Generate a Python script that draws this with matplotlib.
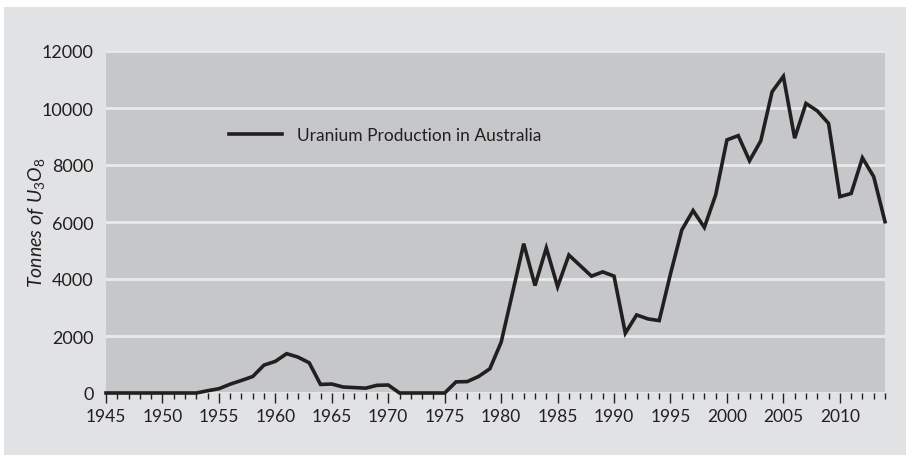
import matplotlib
matplotlib.use("Agg")
import matplotlib.pyplot as plt
from matplotlib.ticker import MultipleLocator
from matplotlib.patches import Rectangle

# Australian uranium production, tonnes of U3O8
years = list(range(1945, 2015))
production = [
    0, 0, 0, 0, 0, 0, 0, 0, 0, 80,            # 1945-1954
    150, 310, 440, 580, 980, 1110, 1380, 1260, 1060, 300,  # 1955-1964
    315, 210, 190, 170, 270, 280, 0, 0, 0, 0,  # 1965-1974
    0, 390, 400, 580, 850, 1780, 3500, 5240, 3770, 5090,  # 1975-1984
    3730, 4840, 4470, 4100, 4250, 4100, 2100, 2740, 2600, 2540,  # 1985-1994
    4180, 5720, 6400, 5810, 6950, 8880, 9030, 8150, 8850, 10570,  # 1995-2004
    11110, 8940, 10160, 9900, 9460, 6890, 7000, 8250, 7590, 6010,  # 2005-2014
]
series_name = "Uranium Production in Australia"
ytick_values = [0, 2000, 4000, 6000, 8000, 10000, 12000]

plt.rcParams["font.family"] = ["Lato", "DejaVu Sans"]
plt.rcParams["mathtext.fontset"] = "custom"
plt.rcParams["mathtext.it"] = "Lato:italic"
plt.rcParams["mathtext.rm"] = "Lato"

dark = "#231f20"

fig = plt.figure(figsize=(9.06, 4.56), dpi=100, facecolor="white")
fig.patches.append(Rectangle((4 / 906, 0), 1, 1 - 8 / 456, transform=fig.transFigure,
                             facecolor="#e1e2e4", edgecolor="none", zorder=-10))

ax = fig.add_axes([106 / 906, 1 - 394 / 456, 779 / 906, 342 / 456])
ax.set_facecolor("#c6c7c9")

ax.plot(years, production, color=dark, lw=2.6, clip_on=False, zorder=3,
        solid_joinstyle="miter", label=series_name)

ax.set_xlim(1945, 2014)
ax.set_ylim(0, 12000)
ax.set_yticks(ytick_values)
ax.xaxis.set_major_locator(MultipleLocator(5))
ax.xaxis.set_minor_locator(MultipleLocator(1))

ax.grid(axis="y", color="#e9eaeb", lw=2)
ax.set_axisbelow(True)
for s in ax.spines.values():
    s.set_visible(False)

ax.tick_params(axis="y", length=0, pad=9, labelsize=13, labelcolor=dark)
ax.tick_params(axis="x", which="major", direction="out", length=7, width=1,
               color=dark, pad=4, labelsize=12.5, labelcolor=dark)
ax.tick_params(axis="x", which="minor", direction="out", length=4, width=1, color=dark)

ax.set_ylabel(r"$Tonnes\ of\ U_3O_8$", fontsize=14, color=dark, labelpad=-4)

ax.legend(loc="center left", bbox_to_anchor=(0.158, 0.755), frameon=False,
          fontsize=12.5, handlelength=3.05, handletextpad=0.86, borderpad=0,
          borderaxespad=0, labelcolor=dark)

fig.savefig("out.png", dpi=100, facecolor=fig.get_facecolor())
